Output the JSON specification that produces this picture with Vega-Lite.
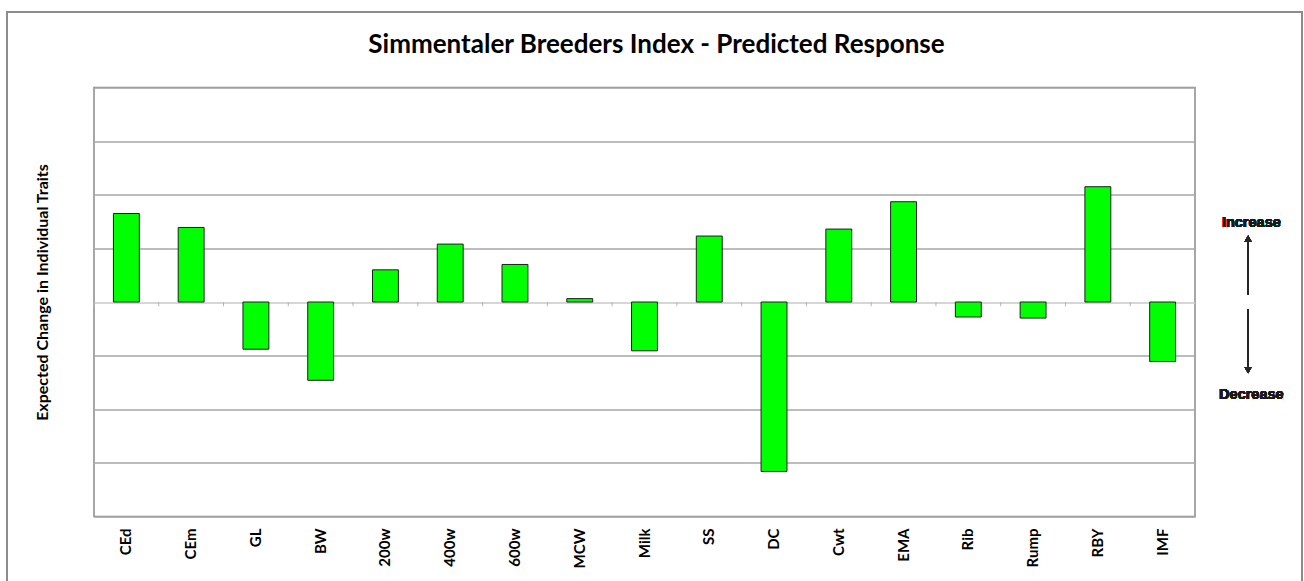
{
  "$schema": "https://vega.github.io/schema/vega-lite/v6.json",
  "width": 1101,
  "height": 429,
  "autosize": {"type": "none"},
  "padding": {"left": 94, "top": 87.5, "right": 109, "bottom": 64.5},
  "background": "white",
  "title": {
    "text": "Simmentaler Breeders Index - Predicted Response",
    "font": "Lato",
    "fontSize": 26,
    "fontWeight": "bold",
    "color": "#000000",
    "anchor": "middle",
    "frame": "group",
    "baseline": "alphabetic",
    "offset": -68,
    "dx": 12
  },
  "config": {
    "view": {"stroke": "#8a8a8a", "strokeWidth": 1.5}
  },
  "data": {
    "values": [
      {"trait": "CEd", "change": 1.65},
      {"trait": "CEm", "change": 1.39},
      {"trait": "GL", "change": -0.88},
      {"trait": "BW", "change": -1.46},
      {"trait": "200w", "change": 0.60},
      {"trait": "400w", "change": 1.08},
      {"trait": "600w", "change": 0.70},
      {"trait": "MCW", "change": 0.063},
      {"trait": "Milk", "change": -0.91},
      {"trait": "SS", "change": 1.23},
      {"trait": "DC", "change": -3.16},
      {"trait": "Cwt", "change": 1.36},
      {"trait": "EMA", "change": 1.87},
      {"trait": "Rib", "change": -0.28},
      {"trait": "Rump", "change": -0.30},
      {"trait": "RBY", "change": 2.15},
      {"trait": "IMF", "change": -1.11}
    ]
  },
  "resolve": {"scale": {"x": "independent"}, "axis": {"x": "independent"}},
  "layer": [
    {
      "encoding": {
        "x": {
          "field": "trait",
          "type": "nominal",
          "sort": null,
          "scale": {"paddingInner": 0, "paddingOuter": 0},
          "axis": {
            "title": null,
            "labelAngle": -90,
            "labelFont": "Lato",
            "labelFontSize": 15,
            "labelFontWeight": "bold",
            "labelColor": "#000000",
            "labelPadding": 11.5,
            "ticks": false,
            "domain": false,
            "grid": false
          }
        }
      },
      "layer": [
        {
          "mark": {"type": "rule", "color": "#b4b4b4", "strokeWidth": 1},
          "encoding": {
            "x": {"field": "trait", "type": "nominal", "sort": null, "bandPosition": 0},
            "y": {"datum": 0, "type": "quantitative"},
            "y2": {"datum": -0.08}
          }
        },
        {
          "mark": {"type": "bar", "width": {"band": 0.4}, "color": "#00ff00", "stroke": "#1f1f1f", "strokeWidth": 1},
          "encoding": {
            "y": {
              "field": "change",
              "type": "quantitative",
              "scale": {"domain": [-4, 4], "nice": false, "zero": false},
              "axis": {
                "values": [-4, -3, -2, -1, 0, 1, 2, 3, 4],
                "grid": true,
                "gridColor": {"condition": {"test": "datum.value === 0", "value": "#c8c8c8"}, "value": "#a6a6a6"},
                "gridWidth": 1.3,
                "labels": false,
                "ticks": false,
                "domain": false,
                "title": "Expected Change in Individual Traits",
                "titleFont": "Lato",
                "titleFontSize": 16,
                "titleFontWeight": "bold",
                "titleColor": "#000000",
                "titlePadding": 44,
                "titleY": 204.5
              }
            }
          }
        }
      ]
    },
    {
      "mark": {"type": "rect", "fill": null, "fillOpacity": 0, "stroke": "#8c8c8c", "strokeWidth": 1.5},
      "encoding": {
        "x": {"datum": -1.343, "type": "quantitative", "scale": {"domain": [0, 17], "nice": false, "zero": false}, "axis": null},
        "x2": {"datum": 18.65},
        "y": {"datum": 5.41, "type": "quantitative"},
        "y2": {"datum": -5.8}
      }
    },
    {
      "mark": {"type": "rule", "color": "#262626", "strokeWidth": 1.5},
      "encoding": {
        "x": {"datum": 17.82, "type": "quantitative", "scale": {"domain": [0, 17], "nice": false, "zero": false}, "axis": null},
        "y": {"datum": 0.144, "type": "quantitative"},
        "y2": {"datum": 1.12}
      }
    },
    {
      "mark": {"type": "rule", "color": "#262626", "strokeWidth": 1.5},
      "encoding": {
        "x": {"datum": 17.82, "type": "quantitative", "scale": {"domain": [0, 17], "nice": false, "zero": false}, "axis": null},
        "y": {"datum": -0.136, "type": "quantitative"},
        "y2": {"datum": -1.2}
      }
    },
    {
      "mark": {"type": "point", "shape": "triangle-up", "filled": true, "color": "#262626", "size": 55, "opacity": 1},
      "encoding": {
        "x": {"datum": 17.82, "type": "quantitative", "scale": {"domain": [0, 17], "nice": false, "zero": false}, "axis": null},
        "y": {"datum": 1.18, "type": "quantitative"}
      }
    },
    {
      "mark": {"type": "point", "shape": "triangle-down", "filled": true, "color": "#262626", "size": 55, "opacity": 1},
      "encoding": {
        "x": {"datum": 17.82, "type": "quantitative", "scale": {"domain": [0, 17], "nice": false, "zero": false}, "axis": null},
        "y": {"datum": -1.27, "type": "quantitative"}
      }
    },
    {
      "mark": {"type": "text", "font": "Liberation Sans", "fontWeight": "bold", "fontSize": 14.5, "color": "#1a1a1a", "baseline": "middle", "align": "center"},
      "encoding": {
        "x": {"datum": 17.87, "type": "quantitative", "scale": {"domain": [0, 17], "nice": false, "zero": false}, "axis": null},
        "y": {"datum": 1.47, "type": "quantitative"},
        "text": {"value": "Increase"}
      }
    },
    {
      "mark": {"type": "text", "font": "Liberation Sans", "fontWeight": "bold", "fontSize": 14.5, "color": "#1a1a1a", "baseline": "middle", "align": "center"},
      "encoding": {
        "x": {"datum": 17.87, "type": "quantitative", "scale": {"domain": [0, 17], "nice": false, "zero": false}, "axis": null},
        "y": {"datum": -1.735, "type": "quantitative"},
        "text": {"value": "Decrease"}
      }
    }
  ]
}
